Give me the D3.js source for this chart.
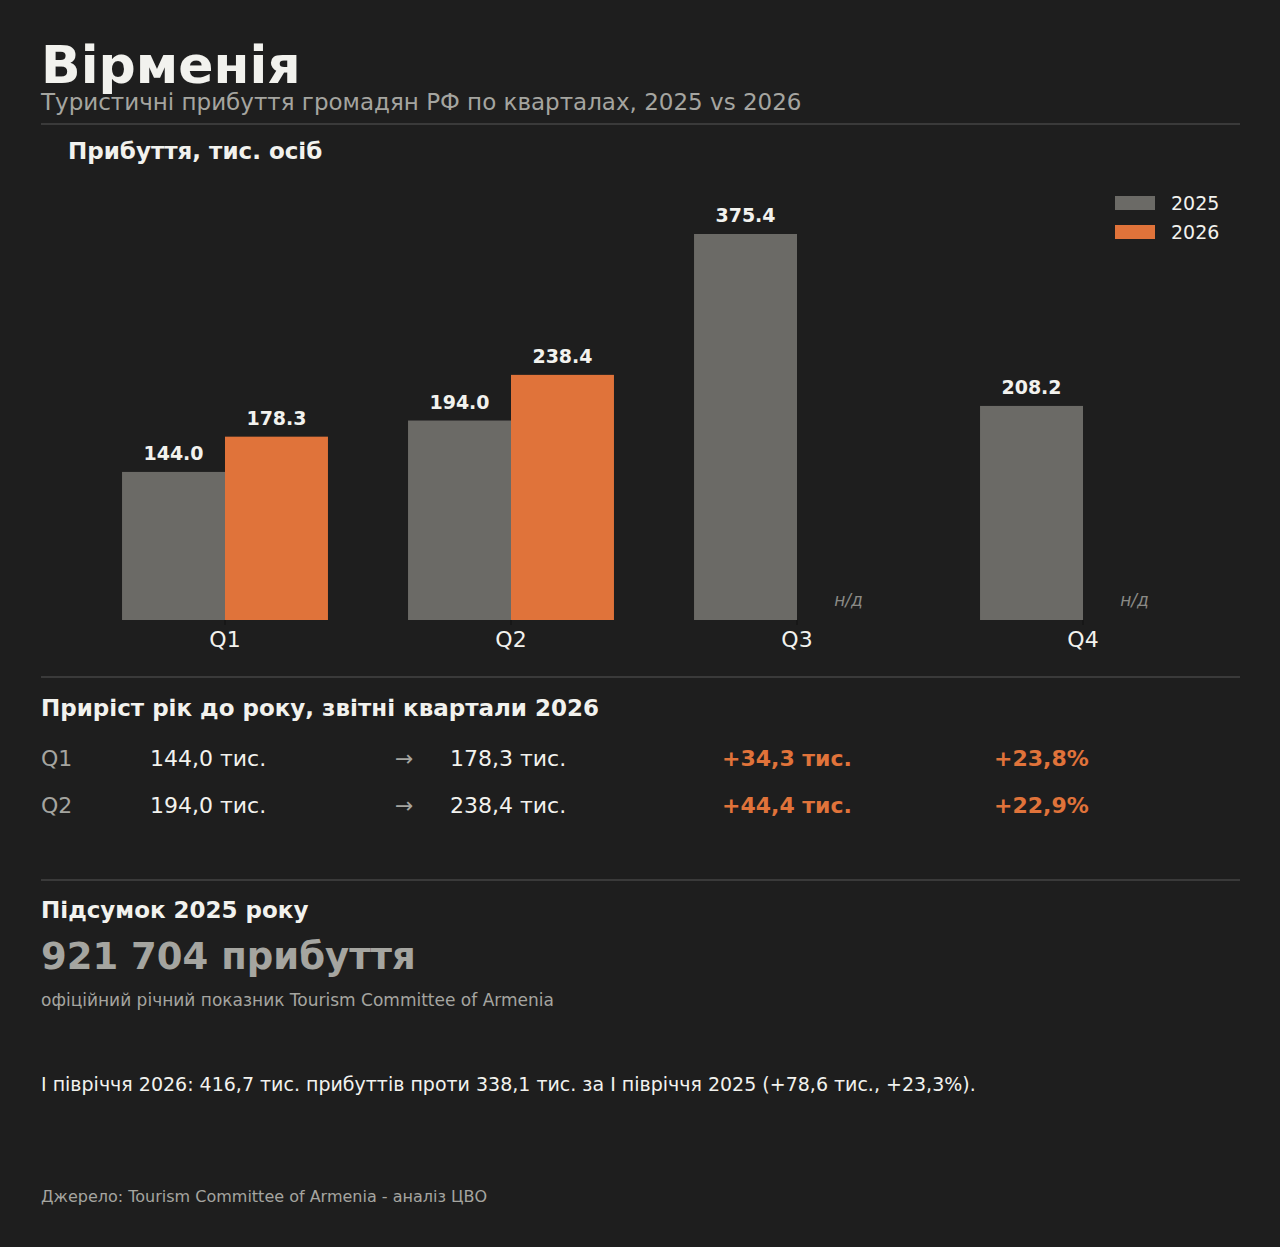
<!DOCTYPE html>
<html><head><meta charset="utf-8">
<script src="https://cdn.jsdelivr.net/npm/d3@7"></script>
<style>body{margin:0;background:#1e1e1e;}svg{display:block;font-family:"DejaVu Sans",sans-serif;}</style>
</head><body>
<svg id="c" width="1280" height="1247"></svg>
<script>
const quarters = ["Q1","Q2","Q3","Q4"];
const series = ["2025","2026"];
const v2025 = [144.0,194.0,375.4,208.2];
const v2026 = [178.3,238.4,null,null];
const colors = ["#6b6a66","#e0733a"];
const yoyRows = [
  ["Q1","144,0 тис.","→","178,3 тис.","+34,3 тис.","+23,8%"],
  ["Q2","194,0 тис.","→","238,4 тис.","+44,4 тис.","+22,9%"]
];

const svg = d3.select("#c");
svg.append("rect").attr("width",1280).attr("height",1247).attr("fill","#1e1e1e");
const T=(x,y,t,s,fill,w,extra)=>{const e=svg.append("text").attr("x",x).attr("y",y).text(t).attr("font-size",s).attr("fill",fill).attr("font-weight",w||"normal");return e;};
const line=y=>svg.append("line").attr("x1",41).attr("x2",1240).attr("y1",y).attr("y2",y).attr("stroke","#3a3a3a").attr("stroke-width",2);

T(41,83,"Вірменія",52,"#f2f2ee","bold");
T(41,110,"Туристичні прибуття громадян РФ по кварталах, 2025 vs 2026",23,"#a5a5a0");
line(124);
T(68,159,"Прибуття, тис. осіб",23,"#f2f2ee","bold");

const x = d3.scaleBand().domain(quarters).range([82,1226]).paddingInner(0.28).paddingOuter(0.14);
const xs = d3.scaleBand().domain(series).range([0,x.bandwidth()]);
const y = d3.scaleLinear().domain([0,375.4]).range([620,234]);
const data = quarters.map((q,i)=>({q,vals:[v2025[i],v2026[i]]}));
const g = svg.append("g");
data.forEach(d=>{
  d.vals.forEach((v,j)=>{
    const bx = x(d.q)+xs(series[j]);
    if(v==null){
      g.append("text").attr("x",bx+xs.bandwidth()/2).attr("y",606).attr("text-anchor","middle")
       .attr("font-size",17).attr("font-style","italic").attr("fill","#8a8a86").text("н/д");
      return;
    }
    g.append("rect").attr("x",bx).attr("width",xs.bandwidth()).attr("y",y(v)).attr("height",y(0)-y(v)).attr("fill",colors[j]);
    g.append("text").attr("x",bx+xs.bandwidth()/2).attr("y",y(v)-12).attr("text-anchor","middle")
     .attr("font-size",19).attr("font-weight","bold").attr("fill","#f2f2ee").text(v.toFixed(1));
  });
});
const ax = svg.append("g").attr("transform","translate(0,620)").call(d3.axisBottom(x).tickSize(5).tickPadding(6));
ax.select(".domain").remove();
ax.selectAll("line").attr("stroke","#111");
ax.selectAll("text").attr("font-size",22).attr("fill","#f2f2ee").attr("font-family","DejaVu Sans");

// legend
series.forEach((s,i)=>{
  svg.append("rect").attr("x",1115).attr("y",196+i*29).attr("width",40).attr("height",14).attr("fill",colors[i]);
  T(1171,210+i*29,s,19,"#f2f2ee");
});

line(677);
T(41,716,"Приріст рік до року, звітні квартали 2026",23,"#f2f2ee","bold");
const cols=[41,150,395,450,722,994];
yoyRows.forEach((r,i)=>{
  const yy=766+i*47;
  r.forEach((c,k)=>{
    const orange=k>=4;
    T(cols[k],yy,c,22,k==0||k==2?"#a5a5a0":(orange?"#e0733a":"#f2f2ee"),orange?"bold":"normal");
  });
});

line(880);
T(41,918,"Підсумок 2025 року",23,"#f2f2ee","bold");
T(41,969,"921 704 прибуття",37,"#a5a5a0","bold");
T(41,1006,"офіційний річний показник Tourism Committee of Armenia",17,"#a5a5a0");
T(41,1091,"І півріччя 2026: 416,7 тис. прибуттів проти 338,1 тис. за І півріччя 2025 (+78,6 тис., +23,3%).",19,"#f2f2ee");
T(41,1202,"Джерело: Tourism Committee of Armenia - аналіз ЦВО",16,"#a5a5a0");
</script>
</body></html>
